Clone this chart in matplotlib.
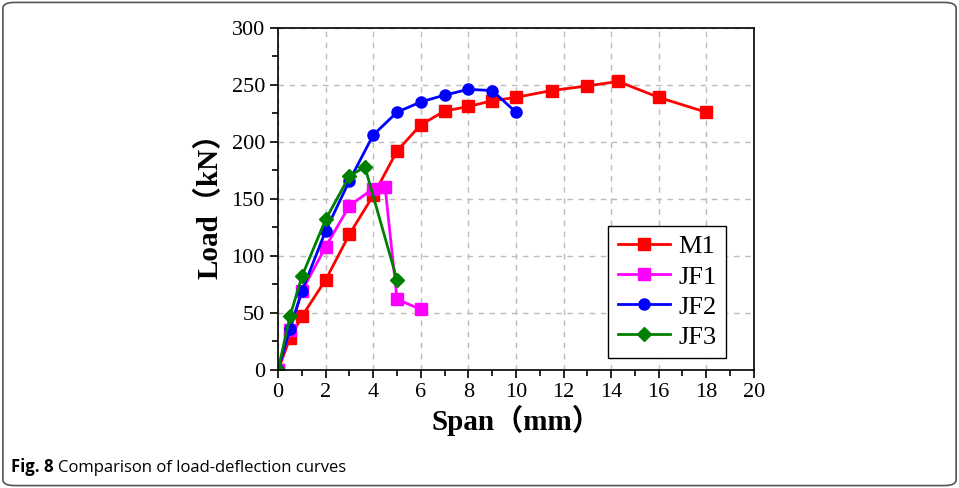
import matplotlib
matplotlib.use("Agg")
import matplotlib.pyplot as plt
from matplotlib.patches import FancyBboxPatch
from matplotlib.ticker import MultipleLocator

# load-deflection data
m1_x = [0, 0.5, 1, 2, 3, 4, 5, 6, 7, 8, 9, 10, 11.5, 13, 14.3, 16, 18]
m1_y = [0, 28, 47, 79, 119, 153, 192, 215, 227, 231, 236, 239, 245, 249, 253, 239, 226]
jf1_x = [0, 0.5, 1, 2, 3, 4, 4.5, 5, 6]
jf1_y = [0, 35, 69, 108, 144, 159, 160, 62, 53]
jf2_x = [0, 0.5, 1, 2, 3, 4, 5, 6, 7, 8, 9, 10]
jf2_y = [0, 36, 69, 122, 166, 206, 226, 235, 241, 246, 245, 226]
jf3_x = [0, 0.5, 1, 2, 3, 3.65, 5]
jf3_y = [0, 47, 82, 132, 170, 178, 79]

serif = ["Liberation Serif", "Noto Sans CJK SC"]

fig = plt.figure(figsize=(9.59, 4.88), dpi=100)
ax = fig.add_axes([0.290, 0.242, 0.496, 0.701])

ax.plot(m1_x, m1_y, "-s", color="#ff0000", lw=2, ms=8, label="M1")
ax.plot(jf1_x, jf1_y, "-s", color="#ff00ff", lw=2, ms=8, label="JF1")
ax.plot(jf2_x, jf2_y, "-o", color="#0000ff", lw=2, ms=8, label="JF2")
ax.plot(jf3_x, jf3_y, "-D", color="#008000", lw=2, ms=7, label="JF3")

ax.set_xlim(0, 20)
ax.set_ylim(0, 300)
ax.xaxis.set_major_locator(MultipleLocator(2))
ax.xaxis.set_minor_locator(MultipleLocator(1))
ax.yaxis.set_major_locator(MultipleLocator(50))
ax.yaxis.set_minor_locator(MultipleLocator(25))
ax.tick_params(which="both", direction="out", top=False, right=False, width=1.2)
ax.tick_params(which="major", length=6)
ax.tick_params(which="minor", length=4)
for lab in ax.get_xticklabels() + ax.get_yticklabels():
    lab.set_family(serif)
    lab.set_fontsize(16)
for sp in ax.spines.values():
    sp.set_linewidth(1.2)
ax.grid(True, which="major", ls=(0, (4, 4)), color="#bbbbbb", lw=1)

ax.set_xlabel("Span（mm）", family=serif, fontsize=21, fontweight="bold", labelpad=2)
ax.set_ylabel("Load（kN）", family=serif, fontsize=21, fontweight="bold", labelpad=6)

leg = ax.legend(loc="lower right", bbox_to_anchor=(0.941, 0.035), prop={"family": serif, "size": 19},
                fancybox=False, edgecolor="black", framealpha=1, handlelength=2.0,
                handletextpad=0.3, borderpad=0.35, labelspacing=0.25, borderaxespad=0)
leg.get_frame().set_linewidth(1)

fig.text(0.011, 0.033, "Fig. 8", fontsize=12, fontweight="bold", family="Open Sans")
fig.text(0.060, 0.033, "Comparison of load-deflection curves", fontsize=12, family="Open Sans")

border = FancyBboxPatch((0.003, 0.005), 0.994, 0.99, boxstyle="round,pad=0,rounding_size=0.012",
                        transform=fig.transFigure, fill=False, edgecolor="#555555", lw=1.2)
fig.patches.append(border)

fig.savefig("out.png", dpi=100)
